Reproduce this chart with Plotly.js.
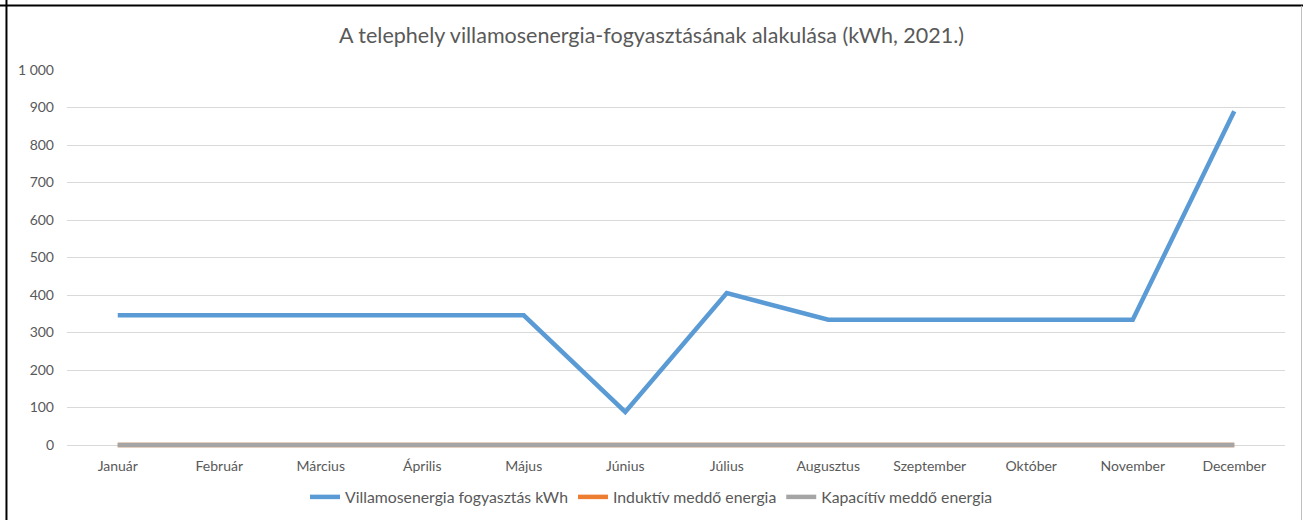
<!DOCTYPE html>
<html>
<head>
<meta charset="utf-8">
<script src="https://cdn.plot.ly/plotly-3.0.1.min.js"></script>
<style>
html,body{margin:0;padding:0;background:#fff;}
#chart{width:1303px;height:520px;}
</style>
</head>
<body>
<div id="chart"></div>
<script>
const months = ["Január","Február","Március","Április","Május","Június","Július","Augusztus","Szeptember","Október","November","December"];
const villamos = [346, 346, 346, 346, 346, 88, 405, 334, 334, 334, 334, 890];
const induktiv = [0, 0, 0, 0, 0, 0, 0, 0, 0, 0, 0, 0];
const kapacitiv = [0, 0, 0, 0, 0, 0, 0, 0, 0, 0, 0, 0];
const seriesNames = ["Villamosenergia fogyasztás kWh", "Induktív meddő energia", "Kapacítív meddő energia"];
const titleText = "A telephely villamosenergia-fogyasztásának alakulása (kWh, 2021.)";

const FONT = "Lato, 'Open Sans', sans-serif";
const traces = [
  {x: months, y: villamos, name: seriesNames[0], type: "scatter", mode: "lines",
   line: {color: "#5B9BD5", width: 4.5}},
  {x: months, y: induktiv, name: seriesNames[1], type: "scatter", mode: "lines",
   line: {color: "#ED7D31", width: 4.5}},
  {x: months, y: kapacitiv, name: seriesNames[2], type: "scatter", mode: "lines",
   line: {color: "#A5A5A5", width: 4.5}}
];

const layout = {
  width: 1303, height: 520,
  margin: {l: 67, r: 18, t: 70, b: 70, autoexpand: false},
  paper_bgcolor: "#ffffff", plot_bgcolor: "#ffffff",
  separators: ", ",
  font: {family: FONT, color: "#595959", size: 14},
  title: {text: titleText, x: 0.5, xanchor: "center", y: 0.932, yanchor: "middle",
          font: {family: FONT, size: 21.5, color: "#595959"}},
  xaxis: {type: "category", range: [-0.5, 11.5], showgrid: false, zeroline: false,
          showline: false, ticks: "", ticklabelstandoff: 6,
          tickfont: {size: 14, color: "#595959"}, fixedrange: true},
  yaxis: {range: [-13.333, 1000], tickmode: "array",
          tickvals: [0,100,200,300,400,500,600,700,800,900,1000],
          tickformat: ",d", showgrid: true,
          gridcolor: "#D9D9D9", gridwidth: 1, zeroline: false, showline: false,
          ticks: "", ticklabelstandoff: 12, tickfont: {size: 14, color: "#595959"}, fixedrange: true},
  showlegend: true,
  legend: {orientation: "h", xref: "container", yref: "container", x: 0.5, xanchor: "center",
           y: 0.044, yanchor: "middle",
           font: {size: 15.8, color: "#595959"}, traceorder: "normal", itemwidth: 30},
  shapes: [
    {type: "line", xref: "paper", yref: "paper", x0: -0.0497, x1: -0.0497, y0: -0.3, y1: 1.3,
     line: {color: "#000000", width: 2}},
    {type: "line", xref: "paper", yref: "paper", x0: -0.06, x1: 1.05, y0: 1.1697, y1: 1.1697,
     line: {color: "#000000", width: 2}},
    {type: "line", xref: "paper", yref: "paper", x0: 1.01355, x1: 1.01355, y0: -0.3, y1: 1.169,
     line: {color: "#BFBFBF", width: 1}}
  ]
};

Plotly.newPlot("chart", traces, layout, {displayModeBar: false, staticPlot: true});
</script>
</body>
</html>
